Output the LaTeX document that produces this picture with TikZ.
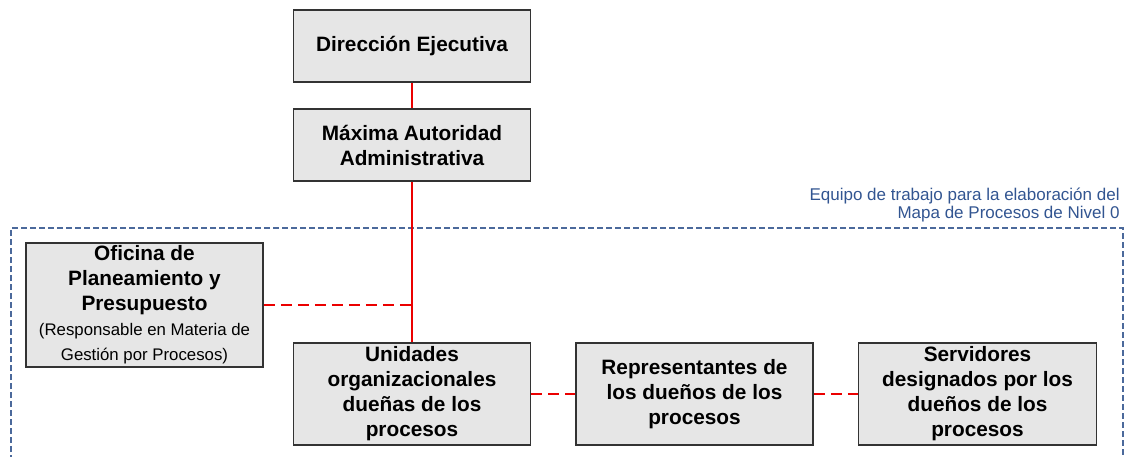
\documentclass[tikz,border=0pt]{standalone}
\usepackage{fontspec}
\setmainfont{Liberation Sans}
\usetikzlibrary{positioning}
\definecolor{rojolinea}{RGB}{235,0,0}
\definecolor{azulequipo}{RGB}{50,85,145}
\definecolor{azulmarco}{RGB}{75,105,155}
\definecolor{grisbox}{RGB}{230,230,230}

\begin{document}
\begin{tikzpicture}[x=0.5pt,y=-0.5pt,
  caja/.style={draw=black!80, line width=0.75pt, fill=grisbox, align=center,
    inner sep=0pt, font=\fontsize{10.4}{12.5}\selectfont\bfseries},
  rojo/.style={draw=rojolinea, line width=0.7pt},
  rojodash/.style={rojo, dash pattern=on 5.5pt off 3pt},
  marco/.style={draw=azulmarco, line width=0.55pt, dash pattern=on 3pt off 1.5pt}]
\useasboundingbox (0,0) rectangle (1127,456);

\draw[marco](11,470)--(11,228)--(1123,228)--(1123,470);
\node(equipo)[anchor=south east, align=right, text=azulequipo, inner sep=0pt,
  font=\fontsize{8.5}{9}\selectfont] at (1120,222)
  {Equipo de trabajo para la elaboración del\\Mapa de Procesos de Nivel 0};

\node(dir)[caja, minimum width=118.5pt, minimum height=36pt] at (412,46){Dirección Ejecutiva};
\node(max)[caja, minimum width=118.5pt, minimum height=36pt] at (412,145){Máxima Autoridad\\Administrativa};
\node(ofi)[caja, minimum width=118.5pt, minimum height=62pt] at (144.5,305)
  {Oficina de\\Planeamiento y\\Presupuesto\\
   {\fontsize{8.4}{12}\selectfont\mdseries (Responsable en Materia de}\\
   {\fontsize{8.4}{12}\selectfont\mdseries Gestión por Procesos)}};
\node(uni)[caja, minimum width=118.5pt, minimum height=51pt] at (412,394)
  {Unidades\\organizacionales\\dueñas de los\\procesos};
\node(rep)[caja, minimum width=118.5pt, minimum height=51pt] at (694.5,394)
  {Representantes de\\los dueños de los\\procesos};
\node(ser)[caja, minimum width=119pt, minimum height=51pt] at (977.5,394)
  {Servidores\\designados por los\\dueños de los\\procesos};

\draw[rojo](dir.south)--(max.north);
\draw[rojo](max.south)--(uni.north);
\draw[rojodash](ofi.east)--(ofi.east -| max.south);
\draw[rojodash](uni)--(rep);
\draw[rojodash](rep)--(ser);
\end{tikzpicture}
\end{document}
